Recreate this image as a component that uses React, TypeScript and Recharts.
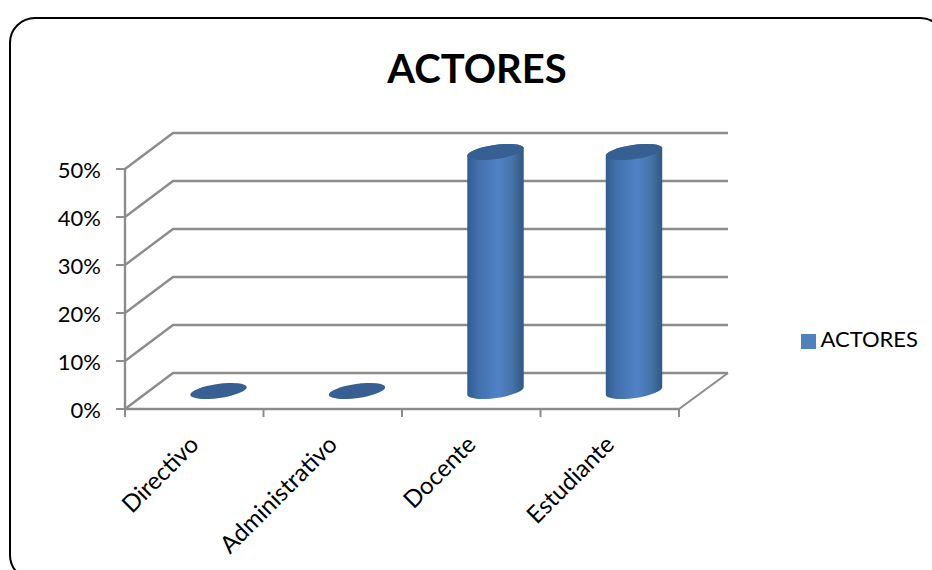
import React from "react";
import { Bar, BarChart, CartesianGrid, Legend, XAxis, YAxis } from "recharts";

const categories = ["Directivo", "Administrativo", "Docente", "Estudiante"];
const values = [0, 0, 50, 50];
const yTicks = [0, 10, 20, 30, 40, 50];
const seriesName = "ACTORES";

const chartData = categories.map((name, i) => ({ name, value: values[i] }));

const AXIS_GRAY = "#8c8c8c";
const TEXT = "#000";
const FONT = "Lato, Carlito, sans-serif";

// fake 3D: the back wall sits this far behind the front plane
const DEPTH_X = 48;
const DEPTH_Y = 36;

function WallLine(props: any) {
  const { x1, x2, y1 } = props;
  const backY = y1 - DEPTH_Y;
  const isFloor = Math.abs(y1 - 409) < 1;
  const pts = `${x1},${y1} ${x1 + DEPTH_X},${backY} ${x2 + DEPTH_X + 1},${backY}`;
  return (
    <g>
      <polyline points={pts} fill="none" stroke={AXIS_GRAY} strokeWidth={2.4} />
      {isFloor && <line x1={x2} y1={y1} x2={x2 + DEPTH_X + 1} y2={backY} stroke={AXIS_GRAY} strokeWidth={2} />}
    </g>
  );
}

// cylinder standing halfway into the floor, tilted caps like the old office 3D columns
function Cylinder(props: any) {
  const { x, y, width, height } = props;
  const cx = x + width / 2 + DEPTH_X / 2;
  const topY = y - DEPTH_Y / 2 + 1;
  const botY = y + height - DEPTH_Y / 2;
  const rx = width / 2;
  const ry = 7;
  const tilt = -8;
  const dx = rx * Math.cos((tilt * Math.PI) / 180);
  const dy = rx * Math.sin((tilt * Math.PI) / 180);
  if (height < 1) {
    return <ellipse cx={cx} cy={botY} rx={rx} ry={ry} fill="#375f91" transform={`rotate(${tilt} ${cx} ${botY})`} />;
  }
  const body = [
    `M ${cx - dx} ${topY - dy}`,
    `L ${cx - dx} ${botY - dy}`,
    `A ${rx} ${ry} ${tilt} 0 0 ${cx + dx} ${botY + dy}`,
    `L ${cx + dx} ${topY + dy}`,
    `A ${rx} ${ry} ${tilt} 0 0 ${cx - dx} ${topY - dy}`,
    "Z",
  ].join(" ");
  return (
    <g>
      <path d={body} fill="url(#cylinderShade)" />
      <ellipse cx={cx} cy={topY} rx={rx} ry={ry} fill="#375f91" transform={`rotate(${tilt} ${cx} ${topY})`} />
    </g>
  );
}

// category label at the band centre, tick mark on the band edge
function CategoryTick(props: any) {
  const { x, y, payload, index, width, visibleTicksCount } = props;
  const step = width / visibleTicksCount;
  const left = x - step / 2;
  return (
    <g>
      <line x1={left} y1={y - 8} x2={left} y2={y} stroke={AXIS_GRAY} strokeWidth={2} />
      {index === visibleTicksCount - 1 && (
        <line x1={left + step} y1={y - 8} x2={left + step} y2={y} stroke={AXIS_GRAY} strokeWidth={2} />
      )}
      <text
        x={x + 6}
        y={y + 29}
        fontSize={24}
        fontFamily={FONT}
        fill={TEXT}
        textAnchor="end"
        transform={`rotate(-45 ${x + 6} ${y + 29})`}
      >
        {payload.value}
      </text>
    </g>
  );
}

export default function App() {
  return (
    <div style={{ position: "absolute", left: 0, top: 0, width: 932, height: 570, overflow: "hidden", background: "#fff" }}>
      <div
        style={{
          position: "absolute",
          left: 9,
          top: 17,
          width: 937,
          height: 564,
          border: "2px solid #000",
          borderRadius: 26,
          boxSizing: "border-box",
        }}
      />
      <div
        style={{
          position: "absolute",
          left: 0,
          top: 43,
          width: 954,
          textAlign: "center",
          fontFamily: FONT,
          fontWeight: 700,
          fontSize: 40,
          lineHeight: "50px",
          color: TEXT,
        }}
      >
        {seriesName}
      </div>
      <BarChart
        width={932}
        height={570}
        data={chartData}
        margin={{ left: 65, right: 115, top: 169, bottom: 61 }}
        style={{ position: "absolute", left: 0, top: 0 }}
      >
        <defs>
          <linearGradient id="cylinderShade" x1="0" y1="0" x2="1" y2="0">
            <stop offset="0" stopColor="#315c90" />
            <stop offset="0.2" stopColor="#4271ad" />
            <stop offset="0.55" stopColor="#5082c6" />
            <stop offset="0.8" stopColor="#4673a8" />
            <stop offset="1" stopColor="#325782" />
          </linearGradient>
        </defs>
        <CartesianGrid vertical={false} horizontal={(p: any) => <WallLine key={p.key} {...p} />} />
        <XAxis
          dataKey="name"
          height={100}
          interval={0}
          tick={(p: any) => <CategoryTick {...p} />}
          tickLine={false}
          axisLine={{ stroke: AXIS_GRAY, strokeWidth: 2.4 }}
        />
        <YAxis
          width={60}
          domain={[0, 50]}
          ticks={yTicks}
          tickFormatter={(v) => `${v}%`}
          tick={{ fill: TEXT, fontSize: 22, fontFamily: FONT, dy: 1 }}
          tickSize={9}
          tickMargin={15}
          tickLine={{ stroke: AXIS_GRAY, strokeWidth: 2 }}
          axisLine={{ stroke: AXIS_GRAY, strokeWidth: 2.4 }}
        />
        <Bar dataKey="value" name={seriesName} fill="#4f81bd" barSize={57} shape={Cylinder} isAnimationActive={false} />
        <Legend
          layout="horizontal"
          verticalAlign="middle"
          align="right"
          iconType="square"
          iconSize={15}
          wrapperStyle={{ left: 790, top: 325, width: 138, fontSize: 22, fontFamily: FONT }}
          formatter={(v) => <span style={{ color: TEXT }}>{v}</span>}
        />
      </BarChart>
    </div>
  );
}
